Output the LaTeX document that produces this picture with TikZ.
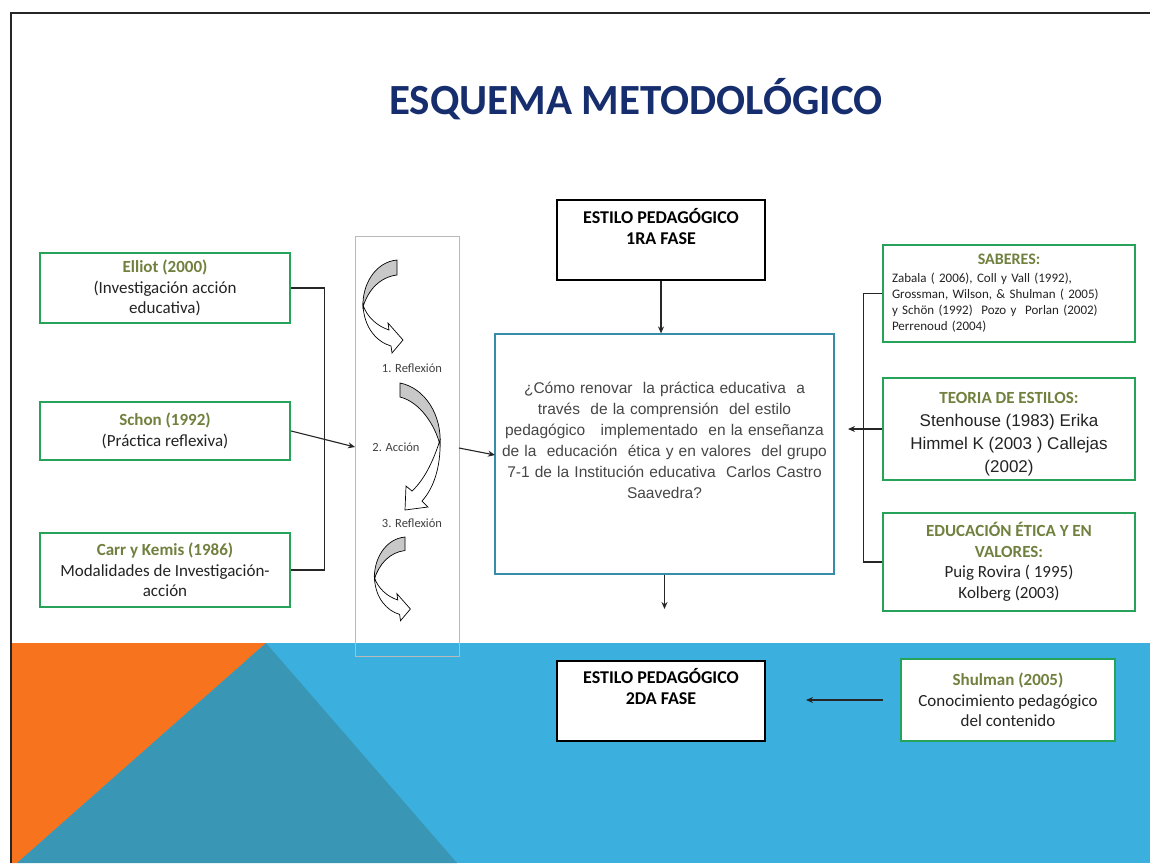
\documentclass[tikz,border=0pt]{standalone}
\usepackage{fontspec}
\setmainfont{Carlito}
\newfontfamily\arialf{Liberation Sans}
\usetikzlibrary{arrows.meta}
\definecolor{boxgreen}{RGB}{38,163,88}
\definecolor{oliveT}{RGB}{112,128,62}
\definecolor{bodytxt}{RGB}{35,35,35}
\definecolor{qgray}{RGB}{70,70,70}
\definecolor{qborder}{RGB}{55,140,170}
\definecolor{navyT}{RGB}{22,45,110}
\definecolor{bandblue}{RGB}{59,176,222}
\definecolor{bandteal}{RGB}{58,150,181}
\definecolor{bandorange}{RGB}{248,115,30}
\definecolor{arrgray}{RGB}{200,200,200}
\newcommand\oltitle[1]{{\color{oliveT}\bfseries #1}}
\tikzset{
  gbox/.style={draw=boxgreen, line width=2.2pt, fill=white, align=center, inner sep=0pt,
    font=\fontsize{17}{20.5}\selectfont, text=bodytxt},
  kbox/.style={draw=black, line width=1.2pt, fill=white, inner sep=0pt},
  ktext/.style={font=\bfseries\fontsize{18}{21}\selectfont, align=center, inner sep=0pt, text=black},
  conn/.style={line width=1.1pt, draw=black!85},
  arr/.style={conn, -{Stealth[length=7pt,width=6pt]}},
  lbl/.style={font=\fontsize{12.5}{14}\selectfont, text=black!75, inner sep=0pt},
  curvarr/.pic={
    \filldraw[fill=arrgray, draw=black, line width=0.7pt] (0,0) .. controls (-22,2) and (-35,25) .. (-34,47) .. controls (-29,30) and (-17,17) .. (0,15) -- cycle;
    \filldraw[fill=white, draw=black, line width=0.7pt] (-34,45) .. controls (-33,68) and (-20,82) .. (-6,86) -- (-5,93) -- (6,80) -- (-9,63) -- (-8,70) .. controls (-20,66) and (-30,57) .. (-34,45) -- cycle;
  }
}
\begin{document}
\begin{tikzpicture}[x=1pt,y=-1pt]
\useasboundingbox (0,0) rectangle (1150,863);
\fill[white] (0,0) rectangle (1150,863);
% bottom band
\fill[bandblue] (11,643) rectangle (1150,863);
\fill[bandorange] (11,643) -- (266,643) -- (17,863) -- (11,863) -- cycle;
\fill[bandteal] (266,643) -- (457,863) -- (17,863) -- cycle;
% frame
\draw[line width=2.2pt, black!85] (11,863) -- (11,13) -- (1150,13);
% title
\node[font=\bfseries\fontsize{43}{50}\selectfont, text=navyT, anchor=base, inner sep=0pt] (title) at (636,114) {ESQUEMA METODOLÓGICO};
% left boxes
\node[gbox, minimum width=250, minimum height=70] (elliot) at (165,288) {\oltitle{Elliot (2000)}\\(Investigación acción\\educativa)};
\node[gbox, minimum width=250, minimum height=58] (schon) at (165,431) {\oltitle{Schon (1992)}\\(Práctica reflexiva)};
\node[gbox, minimum width=250, minimum height=74] (carr) at (165,570) {\oltitle{Carr y Kemis (1986)}\\Modalidades de Investigación-\\acción};
% process column
\node[draw=gray!55, line width=1pt, minimum width=104, minimum height=420, inner sep=0pt] (col) at (407,446) {};
\pic (a1) at (397,260) {curvarr};
\filldraw[fill=arrgray, draw=black, line width=0.7pt] (400,383) .. controls (425,388) and (442,415) .. (440,445) .. controls (435,425) and (420,402) .. (400,397) -- cycle;
\filldraw[fill=white, draw=black, line width=0.7pt] (440,440) .. controls (441,468) and (433,489) .. (422,501) -- (428,507) -- (405,510) -- (406,486) -- (412,491) .. controls (424,480) and (433,462) .. (440,440) -- cycle;
\pic[scale=0.9] (a3) at (405,537) {curvarr};
\node[lbl] (lab1) at (412,368) {1. Reflexión};
\node[lbl] (lab2) at (396,447) {2. Acción};
\node[lbl] (lab3) at (412,523) {3. Reflexión};
% center
\node[kbox, minimum width=208, minimum height=80] (e1) at (661,240) {};
\node[ktext, anchor=north] (e1t) at (661,208) {ESTILO PEDAGÓGICO\\1RA FASE};
\node[draw=qborder, line width=1.2pt, fill=white, minimum width=339, minimum height=240, inner sep=0pt] (q) at (664.5,454) {};
\node[text width=330, align=center, inner sep=0pt, font=\arialf\fontsize{15.5}{21}\selectfont, text=qgray] (qt) at (664.5,440)
  {¿Cómo renovar\ \ la práctica educativa\ \ a\\ través\ \ de la comprensión\ \ del estilo\\ pedagógico\ \ \ implementado\ \ en la enseñanza\\ de la\ \ educación\ \ ética y en valores\ \ del grupo\\ 7-1 de la Institución educativa\ \ Carlos Castro\\ Saavedra?};
\node[kbox, minimum width=208, minimum height=80] (e2) at (661,701) {};
\node[ktext, anchor=north] (e2t) at (661,668) {ESTILO PEDAGÓGICO\\2DA FASE};
% right boxes
\node[gbox, minimum width=252, minimum height=97, text width=234, align=left, font=\fontsize{13}{16}\selectfont] (sab) at (1009,293.5)
  {\makebox[\linewidth]{\fontsize{16}{19}\selectfont\oltitle{SABERES:}}\\[2pt]
   Zabala ( 2006), Coll y Vall (1992),\\ Grossman, Wilson, \& Shulman ( 2005)\\ y Schön (1992)\ \ Pozo y\ \ Porlan (2002)\\ Perrenoud (2004)};
\node[gbox, minimum width=252, minimum height=102] (teo) at (1009,429) {};
\node[align=center, inner sep=0pt, font=\arialf\fontsize{17}{23}\selectfont, text=bodytxt] (teot) at (1009,434)
  {{\rmfamily\oltitle{TEORIA DE ESTILOS:}}\\Stenhouse (1983) Erika\\Himmel K (2003 ) Callejas\\(2002)};
\node[gbox, minimum width=252, minimum height=98] (edu) at (1009,562)
  {\oltitle{EDUCACIÓN ÉTICA Y EN}\\\oltitle{VALORES:}\\Puig Rovira ( 1995)\\Kolberg (2003)};
\node[gbox, minimum width=214, minimum height=82] (shul) at (1008,700)
  {\oltitle{Shulman (2005)}\\Conocimiento pedagógico\\del contenido};
% connectors
\draw[conn] (elliot.east) -- ++(33,0) |- (carr.east);
\coordinate (colin) at (355,447);
\draw[arr] (schon.east) -- (colin);
\coordinate (colout) at (459,448);
\coordinate (qin) at (495,455);
\draw[arr] (colout) -- (qin);
\draw[arr] (e1.south) -- (e1.south |- q.north);
\coordinate (qout) at (664.5,609);
\draw[arr] (q.south) -- (qout);
\draw[conn] (sab.west) -- ++(-18,0) |- (edu.west);
\coordinate (rtip) at (848,429);
\draw[arr] (teo.west) -- (rtip);
\coordinate (stip) at (806,700);
\draw[arr, shorten <=17pt] (shul.west) -- (stip);
\end{tikzpicture}
\end{document}
